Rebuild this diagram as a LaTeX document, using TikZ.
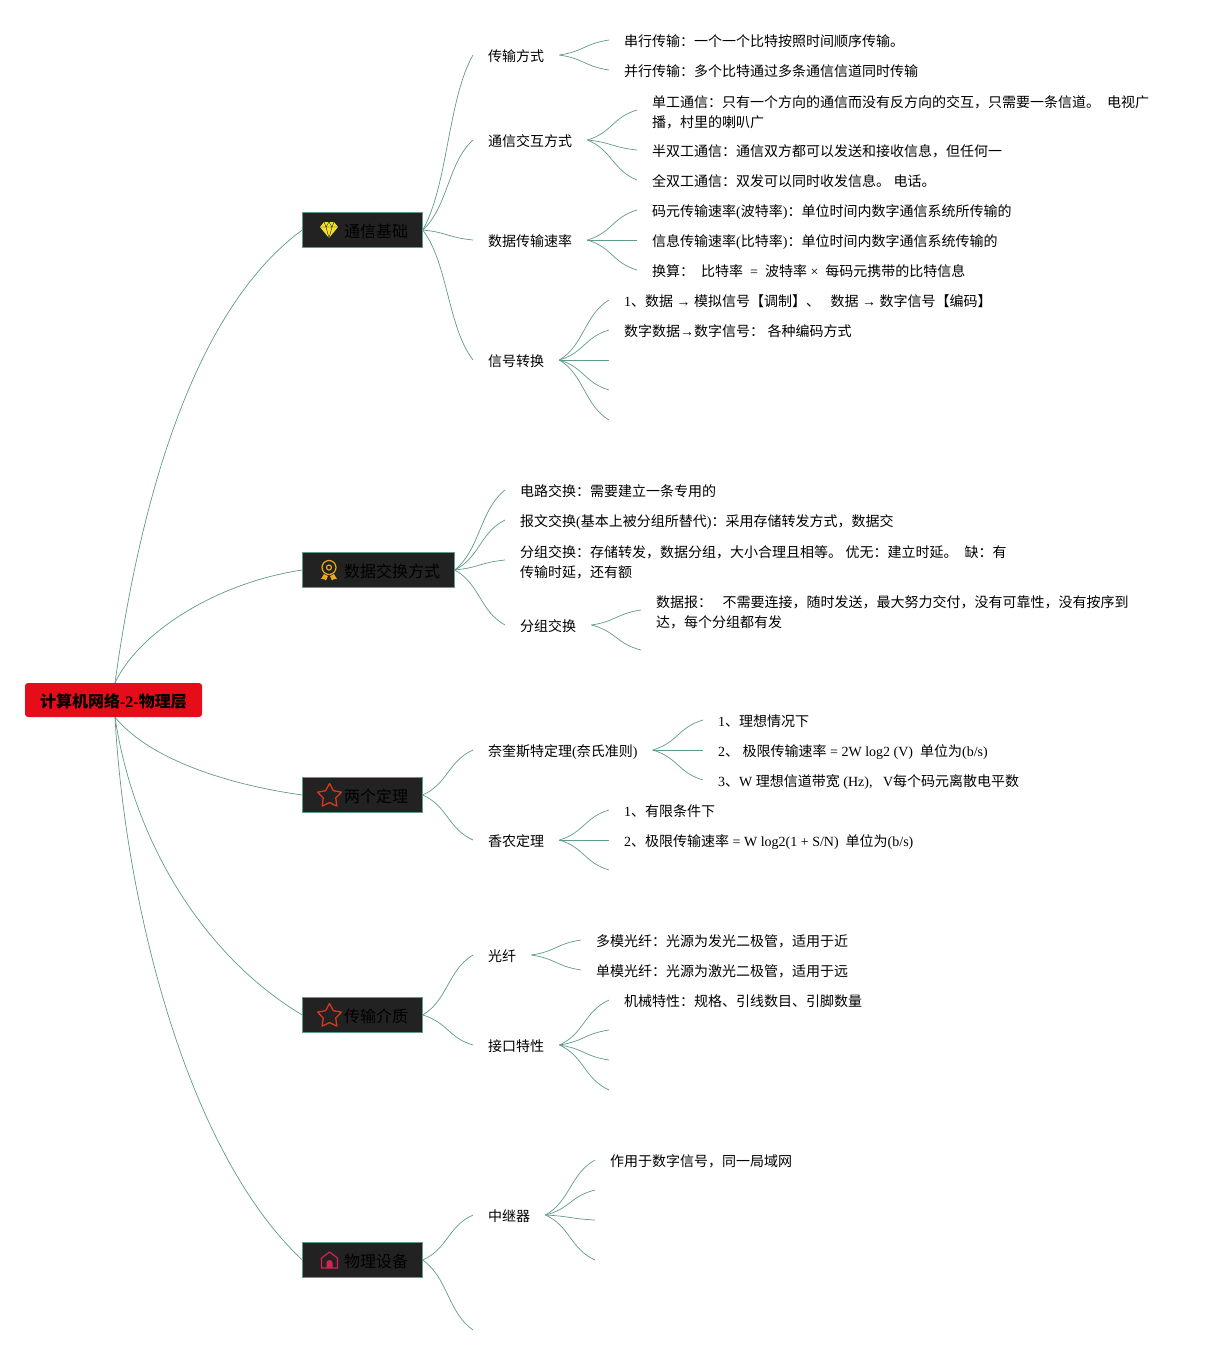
\documentclass[tikz,border=0pt]{standalone}
\usepackage{fontspec}
\setmainfont{Noto Sans CJK SC}
\newfontfamily\latin{Liberation Serif}
\usetikzlibrary{shapes.geometric}
\usetikzlibrary{positioning}
\usetikzlibrary{calc}
\definecolor{linkgreen}{HTML}{5F9A8B}
\definecolor{boxdark}{HTML}{222222}
\definecolor{rootred}{HTML}{E60C1A}
\definecolor{gemyellow}{HTML}{F3E02C}
\definecolor{medalorange}{HTML}{E6A81C}
\definecolor{starred}{HTML}{D8381E}
\definecolor{housered}{HTML}{D4244F}
\newcommand{\la}[1]{{\latin #1}}
\newcommand{\linestrut}{\rule[-3.5pt]{0pt}{20pt}}
\newcommand{\tallstrut}{\rule[-3.5pt]{0pt}{21.5pt}}
\newcommand{\boxstrut}{\rule[-3pt]{0pt}{20pt}}
\newcommand{\lnk}[2]{\draw[lnk] (#1) .. controls ($(#1)!.5!(#2 -| #1)!.5!(#2 |- #1)$) and ($(#2)!.5!(#1 -| #2)!.5!(#1 |- #2)$) .. (#2);}
\tikzset{
  lnk/.style={draw=linkgreen,line width=.7pt},
  rootbox/.style={fill=rootred,rounded corners=3pt,minimum width=177pt,minimum height=34pt,inner sep=0pt,font=\fontsize{16pt}{20pt}\selectfont\bfseries,execute at begin node=\boxstrut},
  topicbox/.style={anchor=west,fill=boxdark,draw=linkgreen,line width=.6pt,outer sep=0pt,minimum height=35.4pt,inner xsep=14.7pt,inner ysep=0pt,font=\fontsize{16pt}{20pt}\selectfont,execute at begin node=\boxstrut},
  branch/.style={anchor=west,inner xsep=15pt,inner ysep=0pt,align=left,font=\fontsize{14pt}{20pt}\selectfont,execute at begin node=\linestrut,execute at end node=\linestrut},
  gem/.pic={
    \fill[gemyellow] (-9,-3) -- (-5,-8) -- (5,-8) -- (9,-3) -- (0,8) -- cycle;
    \draw[boxdark,line width=.4pt] (-9,-3) -- (9,-3) (-5,-8) -- (-3,-3) -- (0,8) -- (3,-3) -- (5,-8) (-3,-3) -- (0,-8) -- (3,-3);
  },
  medal/.pic={
    \draw[medalorange,line width=1.2pt] (0,-2.5) circle (7);
    \draw[medalorange,line width=1.2pt] (0,-2.5) circle (2.5);
    \fill[medalorange] (-5,4) -- (-8,9) -- (-5,9) -- (-3,10.5) -- (-1,6) -- cycle;
    \fill[medalorange] (5,4) -- (8,9) -- (5,9) -- (3,10.5) -- (1,6) -- cycle;
  },
  housepic/.pic={
    \draw[housered,line width=1.2pt,line join=round] (-8,8) -- (-8,-2) -- (0,-8) -- (8,-2) -- (8,8) -- cycle;
    \fill[housered] (-3,8) -- (-3,3) arc (180:360:3) -- (3,8) -- cycle;
  },
  staricon/.style={star,star points=5,star point ratio=1.9,draw=starred,line width=1.3pt,line join=round,minimum size=25pt,inner sep=0pt}
}
\begin{document}
\begin{tikzpicture}[x=1pt,y=-1pt]
    \useasboundingbox (0,0) rectangle (1216,1355);
    \node[rootbox] (root) at (113.5,700) {计算机网络\la{-2-}物理层};
    \coordinate (rootup) at ([xshift=1.5pt]root.north);
    \coordinate (rootdown) at ([xshift=1.5pt]root.south);

    \node[topicbox] (basics) at (302.3,230) {\hspace{27pt}通信基础};
    \node[topicbox] (switching) at (302.3,570) {\hspace{27pt}数据交换方式};
    \node[topicbox] (theorems) at (302.3,795) {\hspace{27pt}两个定理};
    \node[topicbox] (media) at (302.3,1015) {\hspace{27pt}传输介质};
    \node[topicbox] (devices) at (302.3,1260) {\hspace{27pt}物理设备};

    \pic at (329,230) {gem};
    \pic at (329,570) {medal};
    \node[staricon] (startheorems) at (329.5,796) {};
    \node[staricon] (starmedia) at (329.5,1016) {};
    \pic at (329.5,1260) {housepic};

    \draw[lnk] (rootup) .. controls (150,430) and (220,290) .. (basics.west);
    \draw[lnk] (rootup) .. controls (140,630) and (220,582) .. (switching.west);
    \draw[lnk] (rootdown) .. controls (150,760) and (230,785) .. (theorems.west);
    \draw[lnk] (rootdown) .. controls (135,850) and (210,960) .. (media.west);
    \draw[lnk] (rootdown) .. controls (125,900) and (185,1150) .. (devices.west);

    \node[branch] (mode) at (473,55) {传输方式};
    \node[branch] (duplex) at (473,140) {通信交互方式};
    \node[branch] (rate) at (473,240) {数据传输速率};
    \node[branch] (convert) at (473,360) {信号转换};
    \foreach \c in {mode,duplex,rate,convert} {\lnk{basics.east}{\c.west}}

    \node[branch] (serial) at (609,40) {串行传输：一个一个比特按照时间顺序传输。};
    \node[branch] (parallel) at (609,70) {并行传输：多个比特通过多条通信信道同时传输};
    \foreach \c in {serial,parallel} {\lnk{mode.east}{\c.west}}

    \node[branch] (simplex) at (637,110) {\tallstrut 单工通信：只有一个方向的通信而没有反方向的交互，只需要一条信道。\la{~~}电视广\\\linestrut 播，村里的喇叭广};
    \node[branch] (half) at (637,150) {半双工通信：通信双方都可以发送和接收信息，但任何一};
    \node[branch] (full) at (637,180) {全双工通信：双发可以同时收发信息。\la{~}电话。};
    \foreach \c in {simplex,half,full} {\lnk{duplex.east}{\c.west}}

    \node[branch] (baud) at (637,210) {码元传输速率\la{(}波特率\la{)}：单位时间内数字通信系统所传输的};
    \node[branch] (bit) at (637,240) {信息传输速率\la{(}比特率\la{)}：单位时间内数字通信系统传输的};
    \node[branch] (calcrate) at (637,270) {换算：\la{~~}比特率\la{ ~= ~}波特率\la{ ×~~}每码元携带的比特信息};
    \foreach \c in {baud,bit,calcrate} {\lnk{rate.east}{\c.west}}

    \node[branch] (modulate) at (609,300) {\la{1}、数据\la{ → }模拟信号【调制】、\la{~~~}数据\la{ → }数字信号【编码】};
    \node[branch] (encode) at (609,330) {数字数据\la{→}数字信号：\la{~}各种编码方式};
    \coordinate (convertc) at (609,360);
    \coordinate (convertd) at (609,390);
    \coordinate (converte) at (609,420);
    \foreach \c in {modulate.west,encode.west,convertc,convertd,converte} {\lnk{convert.east}{\c}}

    \node[branch] (circuit) at (505,490) {电路交换：需要建立一条专用的};
    \node[branch] (message) at (505,520) {报文交换\la{(}基本上被分组所替代\la{)}：采用存储转发方式，数据交};
    \node[branch] (packet) at (505,560) {\tallstrut 分组交换：存储转发，数据分组，大小合理且相等。\la{~}优无：建立时延。\la{~~}缺：有\\\linestrut 传输时延，还有额};
    \node[branch] (packetsw) at (505,625) {分组交换};
    \foreach \c in {circuit,message,packet,packetsw} {\lnk{switching.east}{\c.west}}

    \node[branch] (datagram) at (641,610) {\tallstrut 数据报：\la{~~~}不需要连接，随时发送，最大努力交付，没有可靠性，没有按序到\\\linestrut 达，每个分组都有发};
    \coordinate (packetb) at (641,650);
    \foreach \c in {datagram.west,packetb} {\lnk{packetsw.east}{\c}}

    \node[branch] (nyquist) at (473,750) {奈奎斯特定理\la{(}奈氏准则\la{)}};
    \node[branch] (shannon) at (473,840) {香农定理};
    \foreach \c in {nyquist,shannon} {\lnk{theorems.east}{\c.west}}

    \node[branch] (ideal) at (703,720) {\la{1}、理想情况下};
    \node[branch] (nlimit) at (703,750) {\la{2}、\la{~}极限传输速率\la{ = 2W log2 (V) ~}单位为\la{(b/s)}};
    \node[branch] (nwidth) at (703,780) {\la{3}、\la{W }理想信道带宽\la{ (Hz), ~~V}每个码元离散电平数};
    \foreach \c in {ideal,nlimit,nwidth} {\lnk{nyquist.east}{\c.west}}

    \node[branch] (limited) at (609,810) {\la{1}、有限条件下};
    \node[branch] (slimit) at (609,840) {\la{2}、极限传输速率\la{ = W log2(1 + S/N) ~}单位为\la{(b/s)}};
    \coordinate (shannonc) at (609,870);
    \foreach \c in {limited.west,slimit.west,shannonc} {\lnk{shannon.east}{\c}}

    \node[branch] (fiber) at (473,955) {光纤};
    \node[branch] (iface) at (473,1045) {接口特性};
    \foreach \c in {fiber,iface} {\lnk{media.east}{\c.west}}

    \node[branch] (multi) at (581,940) {多模光纤：光源为发光二极管，适用于近};
    \node[branch] (single) at (581,970) {单模光纤：光源为激光二极管，适用于远};
    \foreach \c in {multi,single} {\lnk{fiber.east}{\c.west}}

    \node[branch] (mech) at (609,1000) {机械特性：规格、引线数目、引脚数量};
    \coordinate (ifaceb) at (609,1030);
    \coordinate (ifacec) at (609,1060);
    \coordinate (ifaced) at (609,1090);
    \foreach \c in {mech.west,ifaceb,ifacec,ifaced} {\lnk{iface.east}{\c}}

    \node[branch] (repeater) at (473,1215) {中继器};
    \coordinate (devicesb) at (473,1330);
    \foreach \c in {repeater.west,devicesb} {\lnk{devices.east}{\c}}

    \node[branch] (lan) at (595,1160) {作用于数字信号，同一局域网};
    \coordinate (repeaterb) at (595,1190);
    \coordinate (repeaterc) at (595,1220);
    \coordinate (repeaterd) at (595,1260);
    \foreach \c in {lan.west,repeaterb,repeaterc,repeaterd} {\lnk{repeater.east}{\c}}
\end{tikzpicture}
\end{document}
